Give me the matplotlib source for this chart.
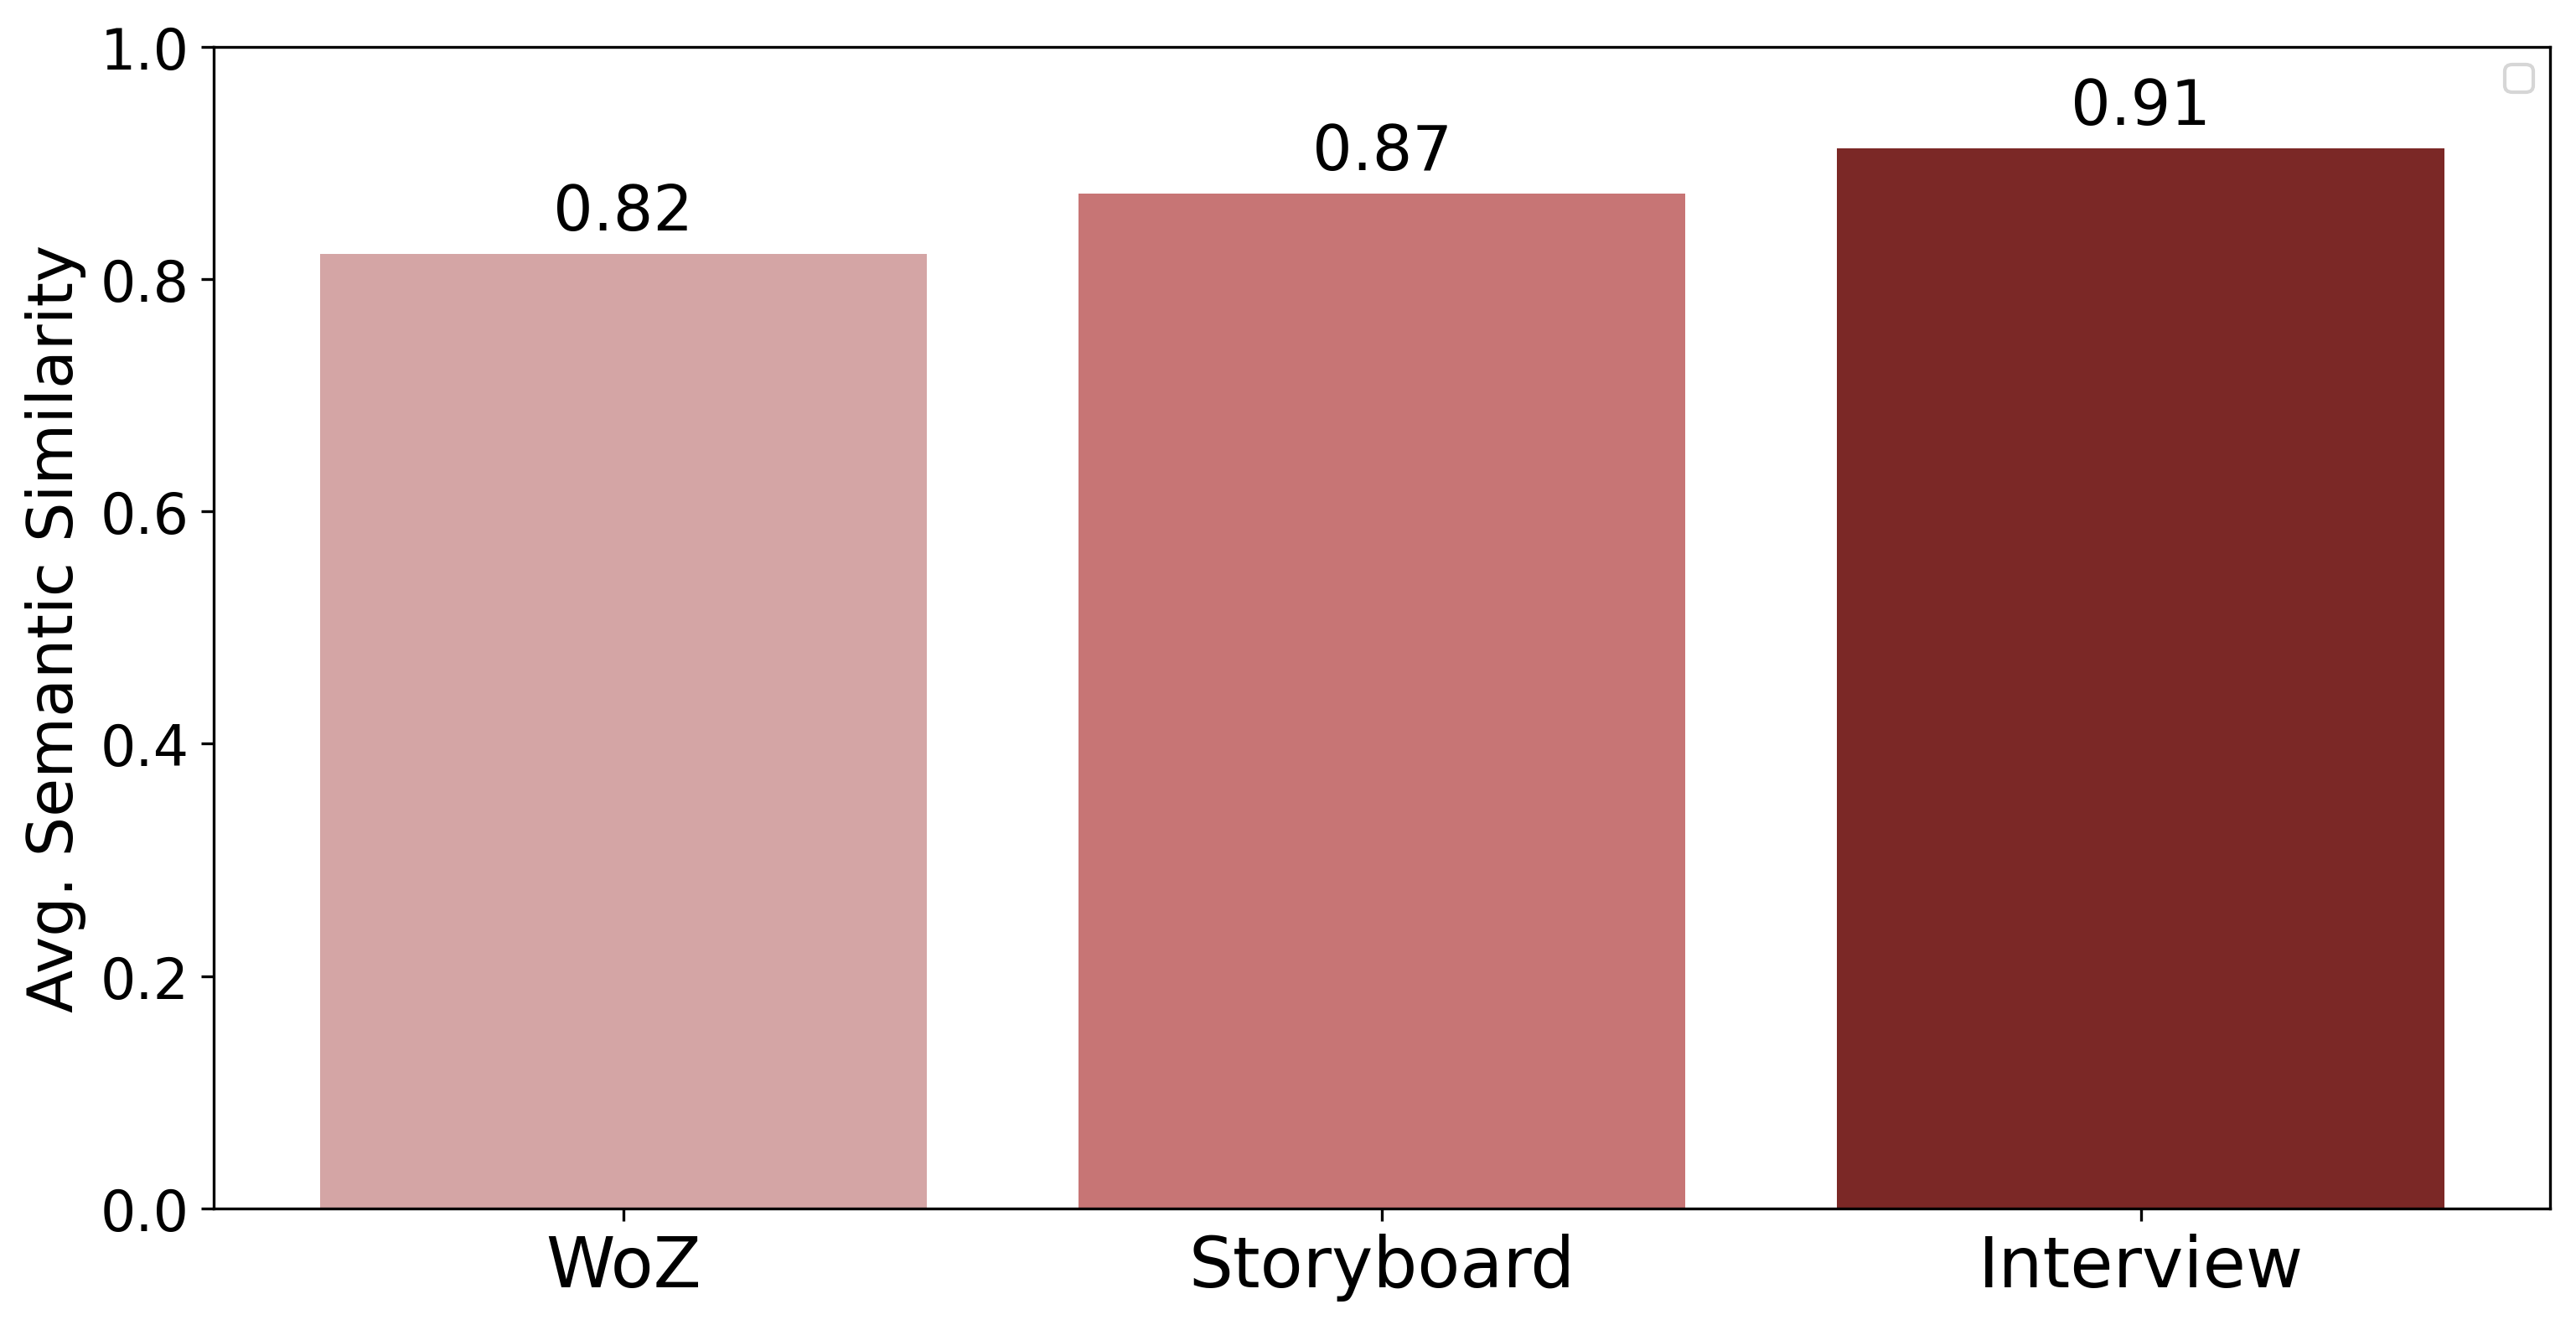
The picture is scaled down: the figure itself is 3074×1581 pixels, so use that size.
import matplotlib
matplotlib.use("Agg")
import matplotlib.pyplot as plt

# Data
methods = ["WoZ", "Storyboard", "Interview"]
similarity = [0.822, 0.874, 0.913]
colors = ["#D4A5A5", "#C77575", "#7B2826"]

fig, ax = plt.subplots(figsize=(10.247, 5.273), dpi=300)
fig.subplots_adjust(left=0.083, right=0.990, top=0.964, bottom=0.088)

bars = ax.bar(methods, similarity, color=colors, width=0.8)
ax.bar_label(bars, labels=[f"{v:.2f}" for v in similarity], padding=3, fontsize=18)

ax.set_ylim(0, 1.0)
ax.set_ylabel("Avg. Semantic Similarity", fontsize=18)
ax.tick_params(axis="y", labelsize=16)
ax.tick_params(axis="x", labelsize=20)

# empty legend box, as in the original
ax.legend(handles=[], loc="upper right")

plt.savefig("out.png", dpi=300)
plt.close()
